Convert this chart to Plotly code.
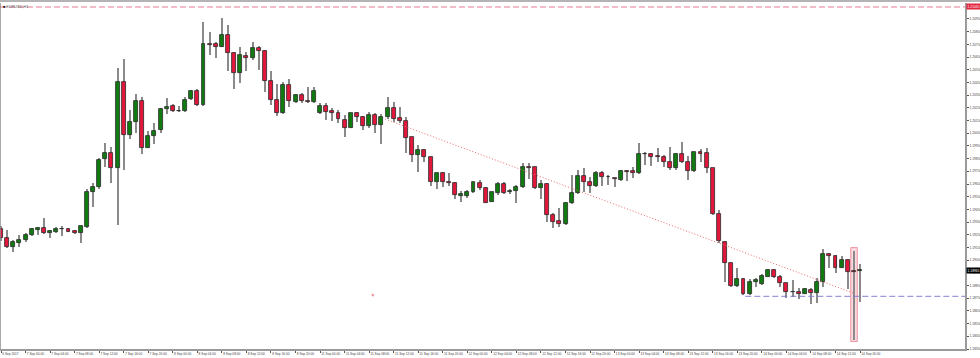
import plotly.graph_objects as go

# ---------------- data (EURUSD, H1) ----------------
opens = [1.19296, 1.19225, 1.19154, 1.19185, 1.19209, 1.19249, 1.19288, 1.19304, 1.19264, 1.19272,
         1.19292, 1.19296, 1.19280, 1.19264, 1.19312, 1.19588, 1.19627, 1.19847, 1.19894, 1.19776,
         1.20454, 1.20036, 1.20138, 1.20304, 1.19934, 1.20029, 1.20076, 1.20241, 1.20265, 1.20225,
         1.20225, 1.20320, 1.20383, 1.20273, 1.20753, 1.20753, 1.20730, 1.20824, 1.20682, 1.20524,
         1.20661, 1.20643, 1.20722, 1.20698, 1.20462, 1.20312, 1.20209, 1.20430, 1.20299, 1.20352,
         1.20306, 1.20299, 1.20207, 1.20265, 1.20225, 1.20207, 1.20154, 1.20093, 1.20207, 1.20175,
         1.20109, 1.20194, 1.20115, 1.20175, 1.20247, 1.20168, 1.20146, 1.20018, 1.19881, 1.19918,
         1.19860, 1.19669, 1.19734, 1.19669, 1.19661, 1.19558, 1.19558, 1.19585, 1.19656, 1.19616,
         1.19511, 1.19582, 1.19648, 1.19585, 1.19595, 1.19624, 1.19786, 1.19781, 1.19616, 1.19650,
         1.19406, 1.19359, 1.19335, 1.19498, 1.19577, 1.19713, 1.19664, 1.19637, 1.19734, 1.19703,
         1.19697, 1.19682, 1.19755, 1.19753, 1.19734, 1.19887, 1.19887, 1.19867, 1.19865, 1.19826,
         1.19774, 1.19887, 1.19826, 1.19755, 1.19900, 1.19892, 1.19774, 1.19411, 1.19196, 1.19025,
         1.18849, 1.18899, 1.18781, 1.18880, 1.18860, 1.18920, 1.18972, 1.18920, 1.18868, 1.18799,
         1.18797, 1.18786, 1.18815, 1.18789, 1.18880, 1.19096, 1.19083, 1.18991, 1.19051, 1.18961,
         1.18965]
highs = [1.19319, 1.19288, 1.19209, 1.19249, 1.19264, 1.19304, 1.19312, 1.19382, 1.19288, 1.19312,
         1.19319, 1.19304, 1.19288, 1.19323, 1.19611, 1.19658, 1.19855, 1.19973, 1.19942, 1.20564,
         1.20635, 1.20233, 1.20359, 1.20336, 1.20068, 1.20130, 1.20249, 1.20328, 1.20280, 1.20265,
         1.20336, 1.20391, 1.20399, 1.20927, 1.20848, 1.20769, 1.20958, 1.20903, 1.20690, 1.20730,
         1.20690, 1.20769, 1.20737, 1.20706, 1.20540, 1.20438, 1.20454, 1.20478, 1.20359, 1.20365,
         1.20415, 1.20417, 1.20291, 1.20291, 1.20247, 1.20233, 1.20194, 1.20212, 1.20220, 1.20186,
         1.20220, 1.20207, 1.20201, 1.20333, 1.20294, 1.20259, 1.20175, 1.20023, 1.19957, 1.19924,
         1.19865, 1.19739, 1.19742, 1.19734, 1.19669, 1.19595, 1.19603, 1.19669, 1.19682, 1.19624,
         1.19590, 1.19669, 1.19669, 1.19608, 1.19642, 1.19818, 1.19818, 1.19786, 1.19682, 1.19656,
         1.19419, 1.19458, 1.19511, 1.19721, 1.19760, 1.19774, 1.19708, 1.19753, 1.19753, 1.19719,
         1.19700, 1.19760, 1.19760, 1.19786, 1.19971, 1.19905, 1.19897, 1.19931, 1.19879, 1.19944,
         1.19892, 1.19984, 1.19871, 1.19905, 1.19924, 1.19931, 1.19778, 1.19445, 1.19203, 1.19030,
         1.18986, 1.18907, 1.18899, 1.18907, 1.18941, 1.18978, 1.18978, 1.18933, 1.18873, 1.18894,
         1.18828, 1.18828, 1.18828, 1.18907, 1.19135, 1.19104, 1.19091, 1.19083, 1.19057, 1.19124,
         1.19020]
lows = [1.19201, 1.19146, 1.19114, 1.19154, 1.19193, 1.19241, 1.19249, 1.19257, 1.19225, 1.19264,
        1.19241, 1.19268, 1.19257, 1.19185, 1.19304, 1.19469, 1.19611, 1.19784, 1.19658, 1.19327,
        1.19760, 1.20005, 1.20052, 1.19887, 1.19930, 1.19965, 1.20052, 1.20201, 1.20217, 1.20217,
        1.20217, 1.20312, 1.20265, 1.20265, 1.20667, 1.20643, 1.20726, 1.20540, 1.20399, 1.20446,
        1.20540, 1.20627, 1.20548, 1.20375, 1.20273, 1.20186, 1.20201, 1.20257, 1.20288, 1.20286,
        1.20288, 1.20291, 1.20201, 1.20154, 1.20146, 1.20128, 1.20023, 1.20089, 1.20141, 1.20076,
        1.20089, 1.20055, 1.19962, 1.20160, 1.20141, 1.20128, 1.19892, 1.19826, 1.19747, 1.19826,
        1.19635, 1.19608, 1.19624, 1.19635, 1.19529, 1.19511, 1.19537, 1.19577, 1.19603, 1.19498,
        1.19506, 1.19564, 1.19569, 1.19569, 1.19503, 1.19616, 1.19690, 1.19608, 1.19529, 1.19353,
        1.19301, 1.19314, 1.19327, 1.19493, 1.19571, 1.19590, 1.19582, 1.19624, 1.19635, 1.19642,
        1.19624, 1.19676, 1.19676, 1.19700, 1.19729, 1.19800, 1.19794, 1.19826, 1.19786, 1.19760,
        1.19760, 1.19818, 1.19682, 1.19742, 1.19826, 1.19734, 1.19406, 1.19183, 1.18880, 1.18841,
        1.18841, 1.18776, 1.18776, 1.18841, 1.18854, 1.18915, 1.18907, 1.18841, 1.18749, 1.18762,
        1.18744, 1.18781, 1.18702, 1.18715, 1.18841, 1.18986, 1.18951, 1.18986, 1.18820, 1.18421,
        1.18723]
closes = [1.19225, 1.19154, 1.19193, 1.19209, 1.19249, 1.19296, 1.19304, 1.19264, 1.19280, 1.19296,
          1.19296, 1.19272, 1.19264, 1.19319, 1.19588, 1.19627, 1.19839, 1.19894, 1.19776, 1.20454,
          1.20036, 1.20138, 1.20304, 1.19934, 1.20029, 1.20068, 1.20241, 1.20257, 1.20225, 1.20229,
          1.20312, 1.20383, 1.20273, 1.20753, 1.20749, 1.20730, 1.20824, 1.20682, 1.20524, 1.20667,
          1.20641, 1.20722, 1.20698, 1.20462, 1.20312, 1.20209, 1.20430, 1.20304, 1.20352, 1.20306,
          1.20294, 1.20386, 1.20265, 1.20220, 1.20207, 1.20160, 1.20093, 1.20207, 1.20175, 1.20109,
          1.20194, 1.20115, 1.20180, 1.20247, 1.20162, 1.20146, 1.20015, 1.19881, 1.19918, 1.19860,
          1.19669, 1.19734, 1.19669, 1.19661, 1.19564, 1.19569, 1.19585, 1.19664, 1.19616, 1.19503,
          1.19585, 1.19650, 1.19582, 1.19595, 1.19624, 1.19786, 1.19778, 1.19616, 1.19650, 1.19406,
          1.19353, 1.19335, 1.19498, 1.19577, 1.19713, 1.19664, 1.19637, 1.19734, 1.19703, 1.19705,
          1.19693, 1.19753, 1.19747, 1.19734, 1.19884, 1.19884, 1.19865, 1.19863, 1.19826, 1.19774,
          1.19887, 1.19826, 1.19755, 1.19900, 1.19887, 1.19774, 1.19414, 1.19203, 1.19025, 1.18849,
          1.18899, 1.18781, 1.18880, 1.18894, 1.18927, 1.18972, 1.18920, 1.18868, 1.18802, 1.18797,
          1.18786, 1.18823, 1.18794, 1.18876, 1.19096, 1.19083, 1.18991, 1.19051, 1.18959, 1.18958,
          1.18965]

time_labels = ["6 Sep 2017", "7 Sep 00:00", "7 Sep 04:00", "7 Sep 08:00", "7 Sep 12:00", "7 Sep 16:00",
               "7 Sep 20:00", "8 Sep 00:00", "8 Sep 04:00", "8 Sep 08:00", "8 Sep 12:00", "8 Sep 16:00",
               "8 Sep 20:00", "11 Sep 00:00", "11 Sep 04:00", "11 Sep 08:00", "11 Sep 12:00", "11 Sep 16:00",
               "11 Sep 20:00", "12 Sep 00:00", "12 Sep 04:00", "12 Sep 08:00", "12 Sep 12:00", "12 Sep 16:00",
               "12 Sep 20:00", "13 Sep 00:00", "13 Sep 04:00", "13 Sep 08:00", "13 Sep 12:00", "13 Sep 16:00",
               "13 Sep 20:00", "14 Sep 00:00", "14 Sep 04:00", "14 Sep 08:00", "14 Sep 12:00", "14 Sep 16:00"]
bars_per_label = 4

price_ticks = [1.2095, 1.2085, 1.2075, 1.2065, 1.2055, 1.2045, 1.2035, 1.2025, 1.2015, 1.2005,
               1.1995, 1.1985, 1.1975, 1.1965, 1.1955, 1.1945, 1.1935, 1.1925, 1.1915, 1.1905,
               1.1895, 1.1885, 1.1875, 1.1865, 1.1855, 1.1845, 1.1835]

symbol_title = "EURUSD,H1"
current_price = 1.18965
resistance_level = 1.21045
support_level = 1.18765
support_start_bar = 121.3
trend_bars = [62.6, 139.0]
trend_prices = [1.20162, 1.18789]
highlight_bar = 139
marker_bar = [60.6]
marker_price = [1.18775]

# ---------------- figure ----------------
n = len(opens)
idx = list(range(n))
x_range = [-0.163, 157.1]
y_range = [1.18350, 1.21076]

GREEN = "#107c10"
RED = "#e3173c"
WICK = "#8a8a8a"

min_body = 0.00004
body_base = [min(o, c) for o, c in zip(opens, closes)]
body_h = [max(abs(c - o), min_body) for o, c in zip(opens, closes)]
body_col = [GREEN if c >= o else RED for o, c in zip(opens, closes)]

fig = go.Figure()
fig.add_trace(go.Bar(x=idx, base=lows, y=[h - l for h, l in zip(highs, lows)],
                     width=0.17, marker=dict(color=WICK, line=dict(width=0)),
                     hoverinfo="skip", showlegend=False))
fig.add_trace(go.Bar(x=idx, base=body_base, y=body_h, width=0.64,
                     marker=dict(color=body_col, line=dict(color="#2a2a2a", width=0.8)),
                     showlegend=False))

fig.add_trace(go.Scatter(x=trend_bars, y=trend_prices, mode="lines",
                         line=dict(color="#f06a6a", width=1, dash="1px,2px"),
                         hoverinfo="skip", showlegend=False))
fig.add_trace(go.Scatter(x=marker_bar, y=marker_price, mode="markers",
                         marker=dict(color="#f2a0a8", size=2.5, symbol="square"),
                         hoverinfo="skip", showlegend=False))

shapes = []
shapes.append(dict(type="rect", xref="x", yref="y",
                   x0=highlight_bar - 0.52, x1=highlight_bar + 0.55,
                   y0=lows[highlight_bar] - 0.00012, y1=highs[highlight_bar] + 0.00025,
                   fillcolor="rgba(240,150,160,0.35)",
                   line=dict(color="rgba(232,120,138,0.75)", width=1), layer="below"))
shapes.append(dict(type="line", xref="paper", yref="y", x0=0, x1=1,
                   y0=resistance_level, y1=resistance_level,
                   line=dict(color="rgba(226,128,148,0.7)", width=1.6, dash="6px,3px")))
shapes.append(dict(type="line", xref="x", yref="y", x0=support_start_bar, x1=x_range[1],
                   y0=support_level, y1=support_level,
                   line=dict(color="rgba(120,120,210,0.75)", width=1.4, dash="6px,3px")))
shapes.append(dict(type="rect", xref="paper", yref="paper", x0=0, x1=1 + 15 / 965,
                   y0=1 + 1 / 346, y1=1 + 3 / 346, fillcolor="#b4b4b4", line=dict(width=0)))
shapes.append(dict(type="line", xref="paper", yref="paper", x0=0, x1=0, y0=0, y1=1,
                   line=dict(color="#8c8c8c", width=1.5)))

annotations = [
    dict(xref="paper", yref="paper", x=0, y=1, xanchor="left", yanchor="top",
         xshift=1, yshift=0, showarrow=False,
         text="<span style='color:#111'>■</span> " + symbol_title,
         font=dict(size=3.8, color="#555", family="Liberation Sans")),
    dict(xref="paper", yref="y", x=1, y=resistance_level, xanchor="left", yanchor="middle",
         xshift=1, showarrow=False, text=f"{resistance_level:.5f}", bgcolor="#e2243f",
         borderpad=0.6, font=dict(size=3.3, color="white", family="Liberation Sans")),
    dict(xref="paper", yref="y", x=1, y=current_price, xanchor="left", yanchor="middle",
         xshift=1, showarrow=False, text=f"{current_price:.5f}", bgcolor="#000000",
         borderpad=0.6, font=dict(size=3.3, color="white", family="Liberation Sans")),
]

fig.update_layout(
    width=980, height=358,
    margin=dict(l=0, r=15, t=3, b=9, pad=0),
    paper_bgcolor="white", plot_bgcolor="white",
    barmode="overlay", bargap=0,
    showlegend=False,
    shapes=shapes, annotations=annotations,
    xaxis=dict(range=x_range, showgrid=False, zeroline=False,
               tickvals=list(range(0, n, bars_per_label)), ticktext=time_labels,
               ticklabelposition="outside right", tickangle=0,
               tickfont=dict(size=3.2, color="#444", family="Liberation Sans"),
               ticks="outside", ticklen=2, tickcolor="#555", tickwidth=1,
               showline=True, linecolor="#9a9a9a", linewidth=1.5, automargin=False),
    yaxis=dict(range=y_range, side="right", showgrid=False, zeroline=False,
               tickvals=price_ticks, ticktext=[f"{v:.5f}" for v in price_ticks],
               tickfont=dict(size=3.3, color="#444", family="Liberation Sans"),
               ticks="outside", ticklen=2, tickcolor="#555", tickwidth=1,
               showline=True, linecolor="#9a9a9a", linewidth=1.5, automargin=False),
)

fig.write_html("out.html", config={"displayModeBar": False},
               post_script="document.body.style.margin='0px';document.body.style.overflow='hidden';")
